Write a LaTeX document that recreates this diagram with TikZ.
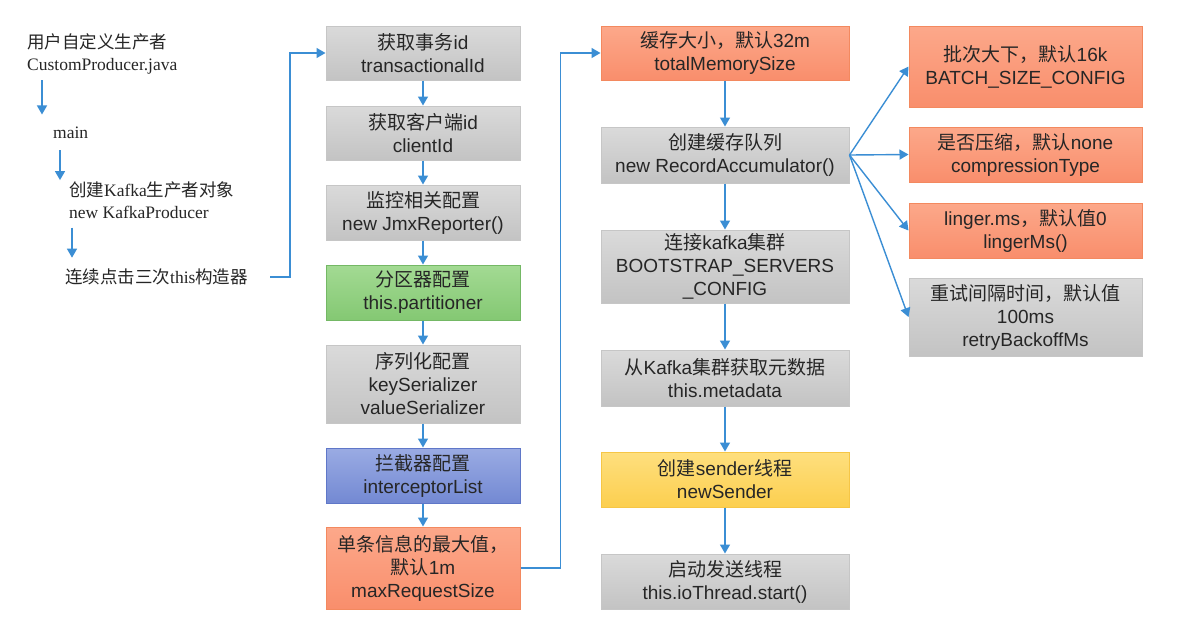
\documentclass[tikz,border=0pt]{standalone}
\usepackage{fontspec}
\setmainfont{Liberation Sans}
\newfontfamily\cjk{Noto Sans CJK SC}
\newfontfamily\tms{Liberation Serif}
\usetikzlibrary{arrows.meta}
\definecolor{Ink}{HTML}{262626}
\definecolor{Azure}{HTML}{3B8ED4}
\definecolor{GreyTop}{HTML}{DADADA}
\definecolor{GreyBot}{HTML}{C3C3C3}
\definecolor{GreyLine}{HTML}{C6C6C6}
\definecolor{MossTop}{HTML}{A3DA93}
\definecolor{MossBot}{HTML}{84C873}
\definecolor{MossLine}{HTML}{74B865}
\definecolor{IndigoTop}{HTML}{9AABE3}
\definecolor{IndigoBot}{HTML}{7389D3}
\definecolor{IndigoLine}{HTML}{5F77C8}
\definecolor{CoralTop}{HTML}{FCA88A}
\definecolor{CoralBot}{HTML}{F98E6C}
\definecolor{CoralLine}{HTML}{F3895F}
\definecolor{SunTop}{HTML}{FEDF7E}
\definecolor{SunBot}{HTML}{FCCF4F}
\definecolor{SunLine}{HTML}{F6C646}

\begin{document}
\begin{tikzpicture}[x=1pt,y=-1pt,
    box/.style={line width=1pt,text=Ink,align=center,inner sep=2pt,
      font=\fontsize{19}{23}\selectfont},
    grey/.style={box,draw=GreyLine,top color=GreyTop,bottom color=GreyBot},
    moss/.style={box,draw=MossLine,top color=MossTop,bottom color=MossBot},
    indigo/.style={box,draw=IndigoLine,top color=IndigoTop,bottom color=IndigoBot},
    coral/.style={box,draw=CoralLine,top color=CoralTop,bottom color=CoralBot},
    sun/.style={box,draw=SunLine,top color=SunTop,bottom color=SunBot},
    colA/.style={minimum width=194pt},
    colB/.style={minimum width=248pt},
    colC/.style={minimum width=233pt},
    note/.style={anchor=west,align=left,inner sep=0pt,text=Ink,
      font=\tms\fontsize{17.5}{22}\selectfont},
    flow/.style={draw=Azure,line width=1.4pt,-{Triangle[length=9pt,width=10pt]}}]
  \useasboundingbox[fill=white] (0,0) rectangle (1183,625);

  % left: where the call chain starts
  \node[note] (user) at (27,54) {{\cjk 用户自定义生产者}\\CustomProducer.java};
  \node[note] (main) at (53,133) {main};
  \node[note] (kp) at (69,200) {{\cjk 创建}Kafka{\cjk 生产者对象}\\new KafkaProducer};
  \node[note] (ctor) at (65,277) {{\cjk 连续点击三次}this{\cjk 构造器}};
  \draw[flow] (user.south west) ++(15,6) -- ++(0,34);
  \draw[flow] (main.south west) ++(7,11) -- ++(0,30);
  \draw[flow] (kp.south west) ++(3,9) -- ++(0,30);

  % first column
  \node[grey,colA,minimum height=54pt] (tid) at (423,53) {{\cjk 获取事务}id\\transactionalId};
  \node[grey,colA,minimum height=54pt] (cid) at (423,133) {{\cjk 获取客户端}id\\clientId};
  \node[grey,colA,minimum height=55pt] (jmx) at (423,212.5) {{\cjk 监控相关配置}\\new JmxReporter()};
  \node[moss,colA,minimum height=55pt] (part) at (423,292.5) {{\cjk 分区器配置}\\this.partitioner};
  \node[grey,colA,minimum height=78pt] (ser) at (423,384) {{\cjk 序列化配置}\\keySerializer\\valueSerializer};
  \node[indigo,colA,minimum height=55pt] (icp) at (423,475.5) {{\cjk 拦截器配置}\\interceptorList};
  \node[coral,colA,minimum height=82pt] (maxreq) at (423,568) {{\cjk 单条信息的最大值，}\\{\cjk 默认}1m\\maxRequestSize};

  % second column
  \node[coral,colB,minimum height=54pt] (mem) at (725,53) {{\cjk 缓存大小，默认}32m\\totalMemorySize};
  \node[grey,colB,minimum height=56pt] (acc) at (725,155) {{\cjk 创建缓存队列}\\new RecordAccumulator()};
  \node[grey,colB,minimum height=73pt] (boot) at (725,266.5) {{\cjk 连接}kafka{\cjk 集群}\\BOOTSTRAP\_SERVERS\\\_CONFIG};
  \node[grey,colB,minimum height=56pt] (meta) at (725,378) {{\cjk 从}Kafka{\cjk 集群获取元数据}\\this.metadata};
  \node[sun,colB,minimum height=55pt] (snd) at (725,479.5) {{\cjk 创建}sender{\cjk 线程}\\newSender};
  \node[grey,colB,minimum height=55pt] (io) at (725,581.5) {{\cjk 启动发送线程}\\this.ioThread.start()};

  % third column
  \node[coral,colC,minimum height=81pt] (batch) at (1025.5,66.5) {{\cjk 批次大下，默认}16k\\BATCH\_SIZE\_CONFIG};
  \node[coral,colC,minimum height=55pt] (comp) at (1025.5,154.5) {{\cjk 是否压缩，默认}none\\compressionType};
  \node[coral,colC,minimum height=55pt] (linger) at (1025.5,230.5) {linger.ms{\cjk ，默认值}0\\lingerMs()};
  \node[grey,colC,minimum height=78pt] (retry) at (1025.5,317) {{\cjk 重试间隔时间，默认值}\\100ms\\retryBackoffMs};

  \foreach \a/\b in {tid/cid,cid/jmx,jmx/part,part/ser,ser/icp,icp/maxreq,
      mem/acc,acc/boot,boot/meta,meta/snd,snd/io}
    \draw[flow] (\a) -- (\b);
  \foreach \b in {batch,comp,linger,retry}
    \draw[flow] (acc.east) -- (\b.west);
  \draw[flow] (ctor.east) ++(22,0) -- ++(20,0) |- (tid.west);
  \draw[flow] (maxreq.east) -- ++(40,0) |- (mem.west);
\end{tikzpicture}
\end{document}
